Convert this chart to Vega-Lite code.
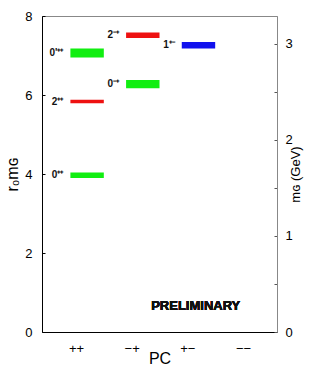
{
  "$schema": "https://vega.github.io/schema/vega-lite/v6.json",
  "width": 235,
  "height": 316,
  "autosize": {"type": "none"},
  "padding": {"left": 42, "top": 16, "right": 50, "bottom": 42},
  "background": "white",
  "config": {
    "view": {"stroke": "#888", "strokeWidth": 1},
    "font": "Liberation Sans",
    "axis": {"grid": false, "labelFont": "Liberation Sans", "titleFont": "Liberation Sans", "labelColor": "#000", "titleColor": "#000", "titleFontWeight": "normal", "tickColor": "#000"}
  },
  "datasets": {
    "states": [
      {"state": "0⁺⁺", "J": "0", "x1": 0.9, "x2": 1.5, "lo": 3.9, "hi": 4.04},
      {"state": "2⁺⁺", "J": "2", "x1": 0.9, "x2": 1.5, "lo": 5.79, "hi": 5.88},
      {"state": "0'⁺⁺", "J": "0", "x1": 0.9, "x2": 1.5, "lo": 6.95, "hi": 7.18},
      {"state": "0⁻⁺", "J": "0", "x1": 1.9, "x2": 2.5, "lo": 6.17, "hi": 6.38},
      {"state": "2⁻⁺", "J": "2", "x1": 1.9, "x2": 2.5, "lo": 7.44, "hi": 7.58},
      {"state": "1⁺⁻", "J": "1", "x1": 2.9, "x2": 3.5, "lo": 7.18, "hi": 7.34}
    ]
  },
  "layer": [
    {
      "data": {"name": "states"},
      "transform": [{"calculate": "(datum.lo + datum.hi) / 2", "as": "mid"}],
      "layer": [
        {
          "mark": {"type": "rect"},
          "encoding": {
            "x": {"field": "x1", "type": "quantitative",
                  "scale": {"domain": [0.39, 4.61], "nice": false, "zero": false},
                  "axis": {"title": "PC", "values": [1, 2, 3, 4],
                           "labelExpr": "datum.value == 1 ? '++' : datum.value == 2 ? '−+' : datum.value == 3 ? '+−' : '−−'",
                           "ticks": false, "labelFontSize": 13, "labelPadding": 10, "domainColor": "#000",
                           "titleFontSize": 16, "titlePadding": -5}},
            "x2": {"field": "x2"},
            "y": {"field": "lo", "type": "quantitative",
                  "scale": {"domain": [0, 8], "nice": false},
                  "axis": {"title": "r₀mɢ", "values": [0, 1, 2, 3, 4, 5, 6, 7, 8],
                           "labelExpr": "datum.value % 2 == 0 ? datum.label : ''",
                           "tickSize": -3, "labelPadding": 13, "labelFontSize": 13,
                           "domainColor": "#000", "titleFontSize": 16, "titlePadding": 4}},
            "y2": {"field": "hi"},
            "color": {"field": "J", "type": "nominal",
                      "scale": {"domain": ["0", "1", "2"], "range": ["#11ee11", "#1111ee", "#ee1111"]},
                      "legend": null}
          }
        },
        {
          "mark": {"type": "text", "align": "right", "baseline": "middle", "dx": -7, "fontWeight": "bold", "fontSize": 10, "font": "Liberation Sans", "color": "#111"},
          "encoding": {
            "x": {"field": "x1", "type": "quantitative"},
            "y": {"field": "mid", "type": "quantitative"},
            "text": {"field": "state"}
          }
        },
        {
          "mark": {"type": "text", "align": "center", "baseline": "middle", "fontWeight": "bold", "fontSize": 13, "font": "Liberation Sans", "color": "#111"},
          "encoding": {
            "x": {"datum": 3.15, "type": "quantitative"},
            "y": {"datum": 0.66, "type": "quantitative"},
            "text": {"value": "PRELIMINARY"}
          }
        }
      ]
    },
    {
      "data": {"values": [{"g": 0}]},
      "mark": {"type": "rule", "opacity": 0},
      "encoding": {
        "y": {"field": "g", "type": "quantitative",
              "scale": {"domain": [0, 3.29], "nice": false},
              "axis": {"orient": "right", "title": "mɢ (GeV)", "values": [0, 0.5, 1, 1.5, 2, 2.5, 3],
                       "labelExpr": "datum.value % 1 == 0 ? format(datum.value, 'd') : ''",
                       "tickSize": -3, "labelPadding": 11, "labelFontSize": 13,
                       "domainColor": "#888", "tickColor": "#555",
                       "titleFontSize": 13, "titleAngle": 270, "titlePadding": 10}}
      }
    }
  ],
  "resolve": {"scale": {"y": "independent"}}
}
